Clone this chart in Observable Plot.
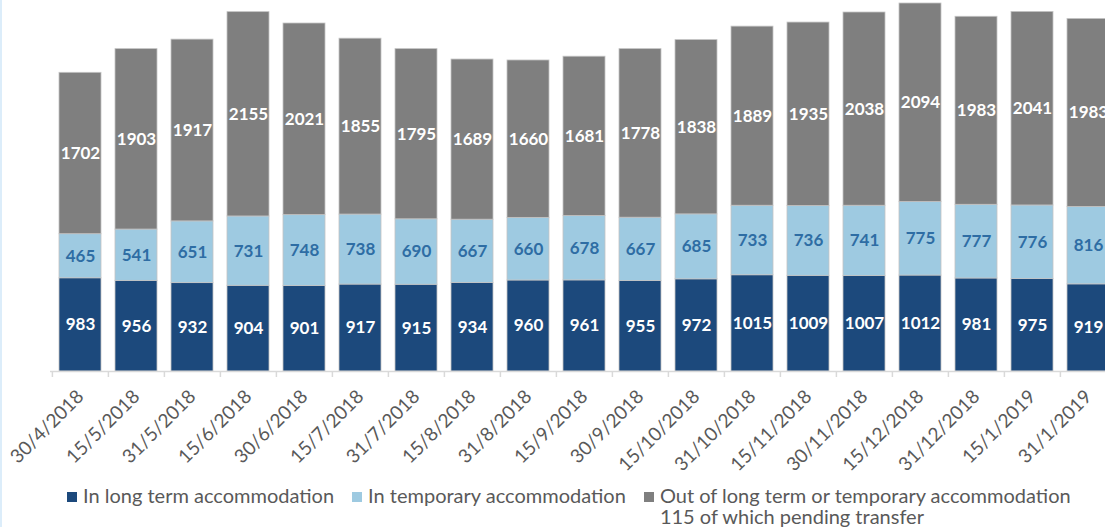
<!DOCTYPE html>
<html>
<head>
<meta charset="utf-8">
<script src="https://cdn.jsdelivr.net/npm/d3@7"></script>
<script src="https://cdn.jsdelivr.net/npm/@observablehq/plot@0.6"></script>
<style>
  html, body { margin: 0; padding: 0; background: #fff; overflow: hidden; width: 1105px; height: 527px; }
  #wrap { position: relative; width: 1105px; height: 527px; }
  #edge { position: absolute; left: 0; top: 0; width: 2px; height: 527px; background: #dcedfa; }
  #chart svg { overflow: hidden; }
  #legend { position: absolute; left: 67px; top: 485px; display: flex; align-items: flex-start;
            font-family: Lato, "Open Sans", sans-serif; font-size: 20px; color: #595959; line-height: 21px; }
  .item { display: flex; align-items: flex-start; margin-right: 18px; }
  .sw { width: 10px; height: 10px; margin-top: 7px; margin-right: 6px; flex: none; }
</style>
</head>
<body>
<div id="wrap">
  <div id="chart"></div>
  <div id="legend"></div>
  <div id="edge"></div>
</div>
<script>
const dates = ["30/4/2018","15/5/2018","31/5/2018","15/6/2018","30/6/2018","15/7/2018","31/7/2018","15/8/2018","31/8/2018","15/9/2018","30/9/2018","15/10/2018","31/10/2018","15/11/2018","30/11/2018","15/12/2018","31/12/2018","15/1/2019","31/1/2019"];
const longTerm = [983,956,932,904,901,917,915,934,960,961,955,972,1015,1009,1007,1012,981,975,919];
const temporary = [465,541,651,731,748,738,690,667,660,678,667,685,733,736,741,775,777,776,816];
const outOf = [1702,1903,1917,2155,2021,1855,1795,1689,1660,1681,1778,1838,1889,1935,2038,2094,1983,2041,1983];
const seriesNames = ["In long term accommodation","In temporary accommodation","Out of long term or temporary accommodation"];
const seriesColors = ["#1c497c","#9ecae1","#7f7f7f"];
const labelColors = ["#ffffff","#2e6da4","#ffffff"];
const legendNote = "115 of which pending transfer";

const seriesValues = [longTerm, temporary, outOf];
const data = [];
dates.forEach((d, i) => {
  seriesNames.forEach((s, k) => data.push({date: d, series: s, value: seriesValues[k][i]}));
});
const yMax = d3.max(dates.map((d, i) => longTerm[i] + temporary[i] + outOf[i]));

const W = 1105, ML = 50, MR = -13;
const step = (W - MR - ML) / dates.length;

const textMarks = seriesNames.map((s, k) =>
  Plot.text(data, Plot.stackY({
    x: "date", y: "value",
    text: d => d.series === s ? String(d.value) : null,
    fill: labelColors[k],
    fontFamily: "Lato, 'Open Sans', sans-serif",
    fontWeight: "bold",
    fontSize: 17
  }))
);

const chart = Plot.plot({
  width: W,
  height: 480,
  marginLeft: ML,
  marginRight: MR,
  marginTop: 3,
  marginBottom: 109,
  style: {fontFamily: "Lato, 'Open Sans', sans-serif", background: "#fff"},
  x: {type: "band", domain: dates, paddingInner: 0.25, paddingOuter: 0.125, label: null},
  y: {domain: [0, yMax], axis: null},
  color: {domain: seriesNames, range: seriesColors},
  marks: [
    Plot.barY(data, Plot.stackY({x: "date", y: "value", fill: "series", stroke: "#c4c4c4", strokeWidth: 0.8})),
    ...textMarks,
    Plot.ruleY([0], {stroke: "#d9d9d9", strokeWidth: 1.5}),
    Plot.axisX({tickSize: 6, tickFormat: () => "", dx: -step / 2, stroke: "#d9d9d9", strokeWidth: 1.5, label: null}),
    Plot.axisX({tickSize: 0, tickRotate: -45, tickPadding: 22, fontSize: 19, fill: "#595959", label: null})
  ]
});
document.getElementById("chart").appendChild(chart);

const legend = document.getElementById("legend");
seriesNames.forEach((s, k) => {
  const item = document.createElement("div");
  item.className = "item";
  const sw = document.createElement("div");
  sw.className = "sw";
  sw.style.background = seriesColors[k];
  const tx = document.createElement("div");
  tx.textContent = s;
  if (k === seriesNames.length - 1) {
    tx.appendChild(document.createElement("br"));
    tx.appendChild(document.createTextNode(legendNote));
  }
  item.appendChild(sw);
  item.appendChild(tx);
  legend.appendChild(item);
});
</script>
</body>
</html>
